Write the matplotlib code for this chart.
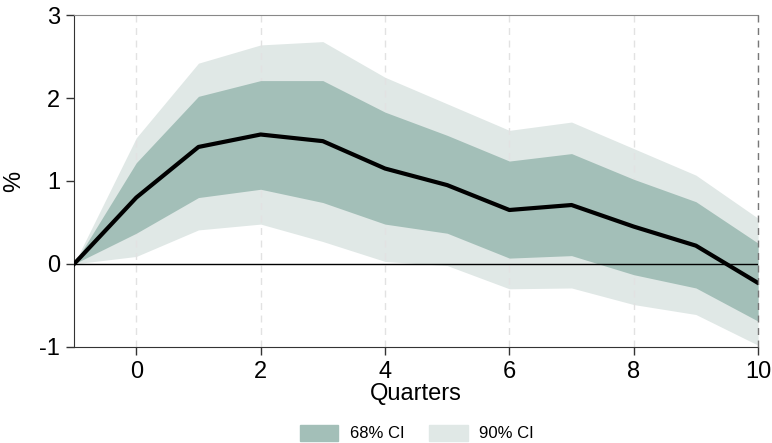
import matplotlib.pyplot as plt
from matplotlib.patches import Patch

plt.rcParams['font.family'] = ['Liberation Sans', 'DejaVu Sans']
plt.rcParams['axes.unicode_minus'] = False

quarters = [-1, 0, 1, 2, 3, 4, 5, 6, 7, 8, 9, 10]
irf = [0.0, 0.80, 1.41, 1.56, 1.48, 1.15, 0.95, 0.65, 0.71, 0.45, 0.22, -0.23]
ci68_hi = [0.0, 1.22, 2.02, 2.21, 2.21, 1.83, 1.55, 1.24, 1.33, 1.02, 0.75, 0.25]
ci68_lo = [0.0, 0.37, 0.80, 0.90, 0.74, 0.48, 0.37, 0.07, 0.10, -0.13, -0.29, -0.69]
ci90_hi = [0.0, 1.52, 2.42, 2.64, 2.68, 2.25, 1.93, 1.61, 1.71, 1.39, 1.07, 0.55]
ci90_lo = [0.0, 0.09, 0.41, 0.48, 0.27, 0.03, -0.02, -0.30, -0.29, -0.49, -0.61, -0.98]

c68 = '#a3bfb8'
c90 = '#e0e8e6'

fig = plt.figure(figsize=(7.72, 4.43), dpi=100)
ax = fig.add_axes([0.096, 0.217, 0.886, 0.749])

ax.fill_between(quarters, ci90_lo, ci90_hi, color=c90, lw=0, zorder=1)
ax.fill_between(quarters, ci68_lo, ci68_hi, color=c68, lw=0, zorder=2)
ax.axhline(0, color='black', lw=1, zorder=3)
ax.plot(quarters, irf, color='black', lw=3, zorder=4)

ax.set_xlim(-1, 10)
ax.set_ylim(-1, 3)
ax.set_xticks([0, 2, 4, 6, 8, 10])
ax.set_yticks([-1, 0, 1, 2, 3])
ax.grid(axis='x', ls=(0, (5, 4)), color='#e2e2e2', lw=1, zorder=0)
ax.axvline(10, ls=(0, (5, 4)), color='#777777', lw=1, zorder=5, clip_on=False)

ax.spines['right'].set_visible(False)
ax.spines['top'].set_color('#888888')
for s in ['left', 'bottom']:
    ax.spines[s].set_color('#333333')
ax.tick_params(axis='both', direction='out', length=6, width=1, color='#333333',
               labelsize=17, pad=4)

ax.set_xlabel('Quarters', fontsize=17, labelpad=0)
ax.set_ylabel('%', fontsize=17)
ax.yaxis.set_label_coords(-0.071, 0.5)

handles = [Patch(color=c68, label='68% CI'), Patch(color=c90, label='90% CI')]
fig.legend(handles=handles, loc='lower center', bbox_to_anchor=(0.54, -0.03),
           ncol=2, frameon=False, fontsize=12, handlelength=2.3, handleheight=1.1,
           handletextpad=0.7, columnspacing=1.5)

fig.savefig('out.png', dpi=100)
